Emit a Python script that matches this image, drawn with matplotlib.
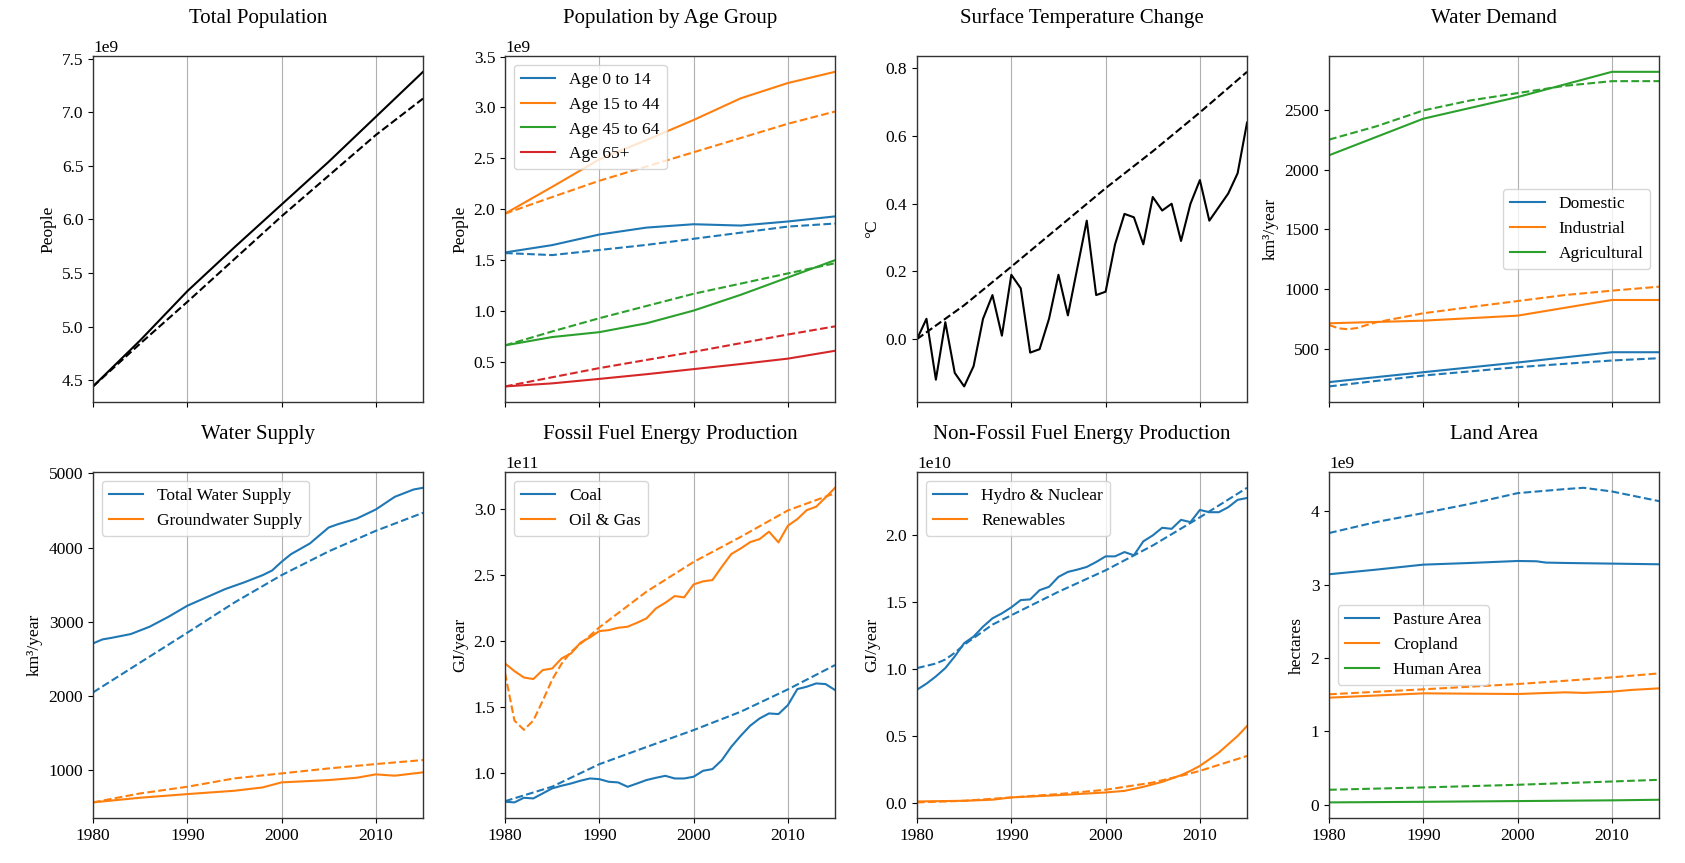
import numpy as np
import matplotlib.pyplot as plt

plt.rcParams['font.family'] = ['Liberation Serif', 'DejaVu Serif']
plt.rcParams['font.size'] = 12.5
plt.rcParams['axes.edgecolor'] = '#333333'
plt.rcParams['axes.linewidth'] = 1.0

# year grids
years_all = list(range(1980, 2016))
years5 = [1980, 1985, 1990, 1995, 2000, 2005, 2010, 2015]
years_dec = [1980, 1990, 2000, 2010, 2015]

# total population (people)
pop_total = [4.44e9, 4.87e9, 5.33e9, 5.74e9, 6.14e9, 6.54e9, 6.96e9, 7.38e9]
pop_total_model = [4.44e9, 4.84e9, 5.23e9, 5.63e9, 6.03e9, 6.41e9, 6.79e9, 7.13e9]

# population by age group (1e9 people)
age_0_14 = [1.576, 1.648, 1.752, 1.82, 1.853, 1.84, 1.88, 1.93]
age_0_14_model = [1.57, 1.55, 1.60, 1.65, 1.71, 1.77, 1.83, 1.86]
age_15_44 = [1.957, 2.22, 2.49, 2.68, 2.877, 3.09, 3.24, 3.35]
age_15_44_model = [1.957, 2.12, 2.28, 2.42, 2.56, 2.70, 2.84, 2.96]
age_45_64 = [0.663, 0.745, 0.793, 0.88, 1.005, 1.16, 1.33, 1.50]
age_45_64_model = [0.663, 0.80, 0.93, 1.05, 1.17, 1.27, 1.37, 1.47]
age_65 = [0.26, 0.29, 0.334, 0.38, 0.43, 0.48, 0.533, 0.61]
age_65_model = [0.26, 0.35, 0.44, 0.52, 0.60, 0.685, 0.77, 0.85]
age_labels = ['Age 0 to 14', 'Age 15 to 44', 'Age 45 to 64', 'Age 65+']

# surface temperature change (deg C)
temp_obs = [0.0, 0.06, -0.12, 0.05, -0.10, -0.14, -0.08, 0.06, 0.13, 0.01,
            0.19, 0.15, -0.04, -0.03, 0.06, 0.19, 0.07, 0.21, 0.35, 0.13,
            0.14, 0.28, 0.37, 0.36, 0.28, 0.42, 0.38, 0.40, 0.29, 0.40,
            0.47, 0.35, 0.39, 0.43, 0.49, 0.64]
temp_model = [0.0, 0.10, 0.214, 0.33, 0.446, 0.555, 0.67, 0.79]

# water demand (km3/year)
dem_dom = [222, 305, 386, 472, 472]
dem_ind = [714, 736, 778, 909, 909]
dem_agri = [2119, 2425, 2606, 2817, 2817]
dem_dom_model = [186, 232, 277, 312, 347, 375, 403, 422]
ind_model_years = [1980, 1981, 1982, 1983, 1984, 1985, 1990, 1995, 2000, 2005, 2010, 2015]
dem_ind_model = [700, 672, 664, 675, 700, 722, 798, 850, 900, 950, 987, 1020]
dem_agri_model = [2250, 2361, 2494, 2578, 2639, 2700, 2739, 2739]

# water supply (km3/year)
sup_total_years = [1980, 1981, 1982, 1984, 1986, 1988, 1990, 1992, 1994, 1996, 1998,
                   1999, 2000, 2001, 2003, 2005, 2006, 2008, 2010, 2012, 2014, 2015]
sup_total = [2708, 2762, 2784, 2834, 2933, 3067, 3216, 3328, 3440, 3530, 3629,
             3692, 3809, 3912, 4056, 4272, 4317, 4393, 4515, 4685, 4784, 4807]
sup_total_model = [2047, 2450, 2852, 3260, 3629, 3950, 4227, 4470]
sup_ground_years = [1980, 1985, 1990, 1995, 1998, 2000, 2005, 2008, 2010, 2012, 2015]
sup_ground = [564, 627, 676, 721, 766, 834, 865, 897, 942, 924, 969]
sup_ground_model = [564, 685, 775, 888, 955, 1022, 1081, 1135]

# fossil fuel energy (1e11 GJ/year)
coal = [0.786, 0.781, 0.816, 0.811, 0.849, 0.887, 0.907, 0.924, 0.945, 0.962,
        0.957, 0.937, 0.932, 0.899, 0.924, 0.950, 0.967, 0.982, 0.962, 0.962,
        0.975, 1.020, 1.033, 1.101, 1.202, 1.285, 1.361, 1.416, 1.454, 1.449,
        1.517, 1.638, 1.656, 1.681, 1.676, 1.631]
coal_model = [0.79, 0.90, 1.07, 1.20, 1.328, 1.467, 1.636, 1.82]
oil_gas = [1.832, 1.774, 1.726, 1.714, 1.782, 1.794, 1.870, 1.908, 1.989, 2.029,
           2.077, 2.084, 2.102, 2.110, 2.140, 2.173, 2.248, 2.291, 2.342, 2.332,
           2.430, 2.453, 2.463, 2.564, 2.660, 2.702, 2.750, 2.773, 2.829, 2.748,
           2.874, 2.924, 2.992, 3.018, 3.088, 3.161]
oil_model_years = [1980, 1981, 1982, 1983, 1984, 1985, 1986, 1987, 1988, 1990,
                   1995, 2000, 2005, 2010, 2015]
oil_gas_model = [1.76, 1.40, 1.33, 1.40, 1.55, 1.71, 1.83, 1.92, 1.98, 2.105,
                 2.375, 2.60, 2.79, 2.99, 3.12]

# non-fossil energy (1e10 GJ/year)
hydro_nuc = [0.845, 0.890, 0.944, 1.006, 1.093, 1.192, 1.241, 1.315, 1.377, 1.414,
             1.459, 1.513, 1.518, 1.587, 1.612, 1.686, 1.723, 1.740, 1.760, 1.797,
             1.839, 1.839, 1.871, 1.847, 1.951, 1.995, 2.052, 2.044, 2.111, 2.094,
             2.185, 2.168, 2.168, 2.205, 2.260, 2.274]
hydro_model_years = [1980, 1982, 1983, 1984, 1985, 1986, 1987, 1988, 1990, 1995,
                     2000, 2005, 2010, 2015]
hydro_nuc_model = [1.006, 1.04, 1.07, 1.12, 1.18, 1.23, 1.28, 1.33, 1.40, 1.575,
                   1.735, 1.92, 2.13, 2.35]
renew_years = [1980, 1985, 1988, 1990, 1995, 2000, 2002, 2004, 2006, 2008, 2009,
               2010, 2011, 2012, 2013, 2014, 2015]
renew = [0.012, 0.017, 0.025, 0.042, 0.059, 0.079, 0.091, 0.121, 0.158, 0.208, 0.24,
         0.277, 0.326, 0.376, 0.438, 0.50, 0.574]
renew_model_years = [1980, 1985, 1990, 1995, 2000, 2005, 2008, 2010, 2015]
renew_model = [0.005, 0.017, 0.042, 0.067, 0.099, 0.153, 0.203, 0.24, 0.351]

# land area (1e9 hectares)
pasture_years = [1980, 1985, 1990, 1995, 2000, 2002, 2003, 2005, 2010, 2015]
pasture = [3.143, 3.206, 3.274, 3.297, 3.324, 3.32, 3.302, 3.297, 3.288, 3.279]
pasture_model_years = [1980, 1985, 1990, 1995, 2000, 2005, 2007, 2010, 2015]
pasture_model = [3.705, 3.855, 3.977, 4.104, 4.249, 4.304, 4.322, 4.272, 4.14]
crop_years = [1980, 1990, 2000, 2005, 2007, 2010, 2012, 2015]
cropland = [1.460, 1.519, 1.510, 1.533, 1.525, 1.542, 1.565, 1.587]
cropland_model = [1.506, 1.54, 1.574, 1.61, 1.646, 1.69, 1.737, 1.791]
human = [0.032, 0.036, 0.040, 0.045, 0.050, 0.055, 0.060, 0.068]
human_model = [0.204, 0.22, 0.236, 0.254, 0.272, 0.295, 0.317, 0.34]

C = plt.rcParams['axes.prop_cycle'].by_key()['color']

fig, axes = plt.subplots(2, 4, figsize=(16.85, 8.63), dpi=100, sharex=True)
fig.subplots_adjust(left=0.0552, right=0.9846, top=0.935, bottom=0.052,
                    wspace=0.2485, hspace=0.202)


def pair(ax, x, y, xm, ym, color, label=None, scale=1.0):
    ax.plot(x, np.array(y) * scale, color=color, label=label)
    ax.plot(xm, np.array(ym) * scale, color=color, ls='--')


# Total Population
ax = axes[0, 0]
pair(ax, years5, pop_total, years5, pop_total_model, 'black')
ax.set_title('Total Population', pad=24)
ax.set_ylabel('People')

# Population by Age Group
ax = axes[0, 1]
for i, (obs, mod) in enumerate([(age_0_14, age_0_14_model), (age_15_44, age_15_44_model),
                                (age_45_64, age_45_64_model), (age_65, age_65_model)]):
    pair(ax, years5, obs, years5, mod, C[i], age_labels[i], 1e9)
ax.set_title('Population by Age Group', pad=24)
ax.set_ylabel('People')
ax.legend(loc='upper left')

# Surface Temperature Change
ax = axes[0, 2]
pair(ax, years_all, temp_obs, years5, temp_model, 'black')
ax.set_title('Surface Temperature Change', pad=24)
ax.set_ylabel('°C')

# Water Demand
ax = axes[0, 3]
pair(ax, years_dec, dem_dom, years5, dem_dom_model, C[0], 'Domestic')
pair(ax, years_dec, dem_ind, ind_model_years, dem_ind_model, C[1], 'Industrial')
pair(ax, years_dec, dem_agri, years5, dem_agri_model, C[2], 'Agricultural')
ax.set_title('Water Demand', pad=24)
ax.set_ylabel('km³/year')
ax.legend(loc='center right')

# Water Supply
ax = axes[1, 0]
pair(ax, sup_total_years, sup_total, years5, sup_total_model, C[0], 'Total Water Supply')
pair(ax, sup_ground_years, sup_ground, years5, sup_ground_model, C[1], 'Groundwater Supply')
ax.set_title('Water Supply', pad=24)
ax.set_ylabel('km³/year')
ax.legend(loc='upper left')

# Fossil Fuel Energy Production
ax = axes[1, 1]
pair(ax, years_all, coal, years5, coal_model, C[0], 'Coal', 1e11)
pair(ax, years_all, oil_gas, oil_model_years, oil_gas_model, C[1], 'Oil & Gas', 1e11)
ax.set_title('Fossil Fuel Energy Production', pad=24)
ax.set_ylabel('GJ/year')
ax.legend(loc='upper left')

# Non-Fossil Fuel Energy Production
ax = axes[1, 2]
pair(ax, years_all, hydro_nuc, hydro_model_years, hydro_nuc_model, C[0], 'Hydro & Nuclear', 1e10)
pair(ax, renew_years, renew, renew_model_years, renew_model, C[1], 'Renewables', 1e10)
ax.set_title('Non-Fossil Fuel Energy Production', pad=24)
ax.set_ylabel('GJ/year')
ax.legend(loc='upper left')

# Land Area
ax = axes[1, 3]
pair(ax, pasture_years, pasture, pasture_model_years, pasture_model, C[0], 'Pasture Area', 1e9)
pair(ax, crop_years, cropland, years5, cropland_model, C[1], 'Cropland', 1e9)
pair(ax, years5, human, years5, human_model, C[2], 'Human Area', 1e9)
ax.set_title('Land Area', pad=24)
ax.set_ylabel('hectares')
ax.legend(loc='center left')

for ax in axes.flat:
    ax.set_xlim(1980, 2015)
    ax.set_xticks([1980, 1990, 2000, 2010])
    ax.grid(axis='x', color='#b0b0b0', lw=0.8)

fig.savefig('out.png', dpi=100)
